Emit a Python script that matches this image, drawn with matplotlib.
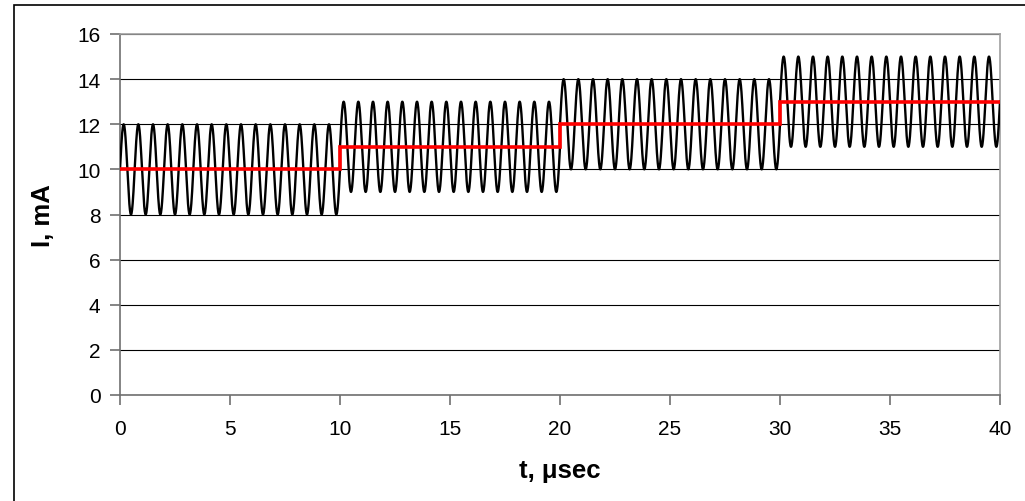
import numpy as np
import matplotlib
matplotlib.use("Agg")
import matplotlib.pyplot as plt
from matplotlib.patches import Rectangle

# Step current: DC level per 10 µs interval plus a 1.5 MHz ripple of ±2 mA
step_edges = [0, 10, 20, 30, 40]          # t, µsec
step_levels = [10, 11, 12, 13]            # I, mA
ripple_amplitude = 2.0                    # mA
ripple_freq = 1.5                         # MHz (cycles per µsec)
x_ticks = [0, 5, 10, 15, 20, 25, 30, 35, 40]
y_ticks = [0, 2, 4, 6, 8, 10, 12, 14, 16]

plt.rcParams["font.family"] = ["Liberation Sans", "DejaVu Sans"]

W, H, DPI = 1025, 502, 100
fig = plt.figure(figsize=(W / DPI, H / DPI), dpi=DPI)
fig.patch.set_facecolor("white")

left, right, top, bottom = 120, 1000, 35, 396
ax = fig.add_axes([left / W, 1 - bottom / H, (right - left) / W, (bottom - top) / H])

# Ripple waveform and its stepped mean
t_all, i_all = [], []
st, sl = [], []
for k, lvl in enumerate(step_levels):
    t0, t1 = step_edges[k], step_edges[k + 1]
    t = np.linspace(t0, t1, 800)
    t_all.append(t)
    i_all.append(lvl + ripple_amplitude * np.sin(2 * np.pi * ripple_freq * t))
    st += [t0, t1]
    sl += [lvl, lvl]
t_all = np.concatenate(t_all)
i_all = np.concatenate(i_all)

ax.plot(t_all, i_all, color="black", lw=1.7, zorder=3)
ax.plot(st, sl, color="#ff0000", lw=2.6, zorder=4, solid_joinstyle="miter")

ax.set_xlim(step_edges[0], step_edges[-1])
ax.set_ylim(0, 16)
ax.set_xticks(x_ticks)
ax.set_yticks(y_ticks)
ax.yaxis.grid(True, color="black", lw=0.8)
ax.set_axisbelow(True)

for s in ["left", "bottom"]:
    ax.spines[s].set_color("#707070")
    ax.spines[s].set_linewidth(1.2)
for s in ["top", "right"]:
    ax.spines[s].set_color("#a0a0a0")
    ax.spines[s].set_linewidth(1.2)

ax.tick_params(axis="both", direction="out", length=7, width=1.2, color="#707070",
               labelsize=15, labelcolor="black")
ax.tick_params(axis="x", pad=10)
ax.tick_params(axis="y", pad=7)

ax.set_xlabel("t, \u03bcsec", fontsize=18.5, fontweight="bold", labelpad=15)
ax.set_ylabel("I, mA", fontsize=18.5, fontweight="bold", labelpad=16)

# Chart frame
fig.patches.append(Rectangle((14 / W, -0.1), 1.2, 1 - 6 / H + 0.1, transform=fig.transFigure,
                             fill=False, edgecolor="black", lw=1.2, zorder=0))

fig.savefig("out.png", dpi=DPI)
